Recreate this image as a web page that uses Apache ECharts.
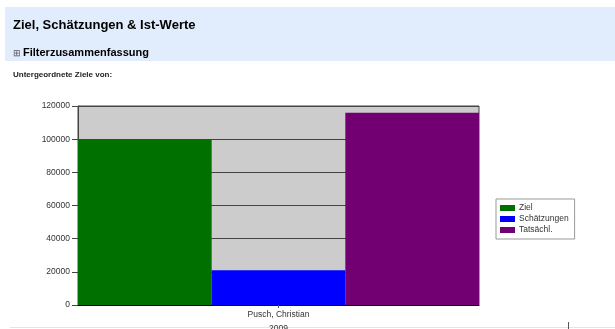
<!DOCTYPE html>
<html>
<head>
<meta charset="utf-8">
<script src="https://cdn.jsdelivr.net/npm/echarts@6/dist/echarts.min.js"></script>
<style>
  html, body { margin: 0; padding: 0; background: #fff; }
  #page { position: relative; width: 615px; height: 329px; overflow: hidden; font-family: "Liberation Sans", Arial, sans-serif; }
  #chart { position: absolute; left: 0; top: 0; width: 615px; height: 329px; }
  .band { position: absolute; left: 5px; top: 7px; width: 610px; height: 54px; background: #e1ecfc; }
  .title { position: absolute; left: 13px; top: 17px; font-size: 13px; font-weight: bold; color: #000; white-space: nowrap; }
  .filter { position: absolute; left: 13px; top: 46px; font-size: 11px; font-weight: bold; color: #000; white-space: nowrap; }
  .filter span { font-size: 9px; font-weight: normal; color: #555; margin-right: 2px; }
  .sub { position: absolute; left: 13px; top: 70px; font-size: 8px; font-weight: bold; color: #222; white-space: nowrap; }
</style>
</head>
<body>
<div id="page">
  <div id="chart"></div>
  <div class="band"></div>
  <div class="title">Ziel, Schätzungen &amp; Ist-Werte</div>
  <div class="filter"><span>⊞</span>Filterzusammenfassung</div>
  <div class="sub">Untergeordnete Ziele von:</div>
</div>
<script>
// Werte
const categories = ['Pusch, Christian'];
const zielWerte = [100000];
const schaetzWerte = [21000];
const istWerte = [116000];
const seriesNames = ['Ziel', 'Schätzungen', 'Tatsächl.'];
const yearLabel = '2009';

const chart = echarts.init(document.getElementById('chart'));

const labelFont = { fontFamily: 'Liberation Sans, Arial, sans-serif', fontSize: 8.5, color: '#333' };

chart.setOption({
  animation: false,
  grid: {
    left: 78, top: 106, width: 401, height: 199,
    show: true, backgroundColor: '#cccccc', borderColor: '#444', borderWidth: 1
  },
  legend: {
    orient: 'vertical',
    left: 496, top: 199,
    data: seriesNames,
    icon: 'rect',
    itemWidth: 15, itemHeight: 6, itemGap: 1,
    padding: [4, 6, 4, 4],
    backgroundColor: '#fff', borderColor: '#999', borderWidth: 1,
    textStyle: { ...labelFont, lineHeight: 10, padding: [0, 0, 0, -1] }
  },
  xAxis: {
    type: 'category',
    data: categories,
    axisLine: { lineStyle: { color: '#000', width: 1 } },
    axisTick: { show: true, alignWithLabel: true, length: 3, lineStyle: { color: '#555' } },
    axisLabel: { ...labelFont, margin: 5 }
  },
  yAxis: {
    type: 'value',
    min: 0, max: 120000, interval: 20000,
    axisLine: { show: true, lineStyle: { color: '#444' } },
    axisTick: { show: true, length: 6, lineStyle: { color: '#444' } },
    axisLabel: { ...labelFont, margin: 8, formatter: v => String(v) },
    splitLine: { show: true, lineStyle: { color: '#444', width: 1 } }
  },
  series: [
    { name: seriesNames[0], type: 'bar', data: zielWerte, barGap: '0%', barCategoryGap: '0%', itemStyle: { color: '#007000' } },
    { name: seriesNames[1], type: 'bar', data: schaetzWerte, barGap: '0%', barCategoryGap: '0%', itemStyle: { color: '#0000ff' } },
    { name: seriesNames[2], type: 'bar', data: istWerte, barGap: '0%', barCategoryGap: '0%', itemStyle: { color: '#730073' } }
  ],
  graphic: [
    { type: 'line', shape: { x1: 10, y1: 327.5, x2: 615, y2: 327.5 }, style: { stroke: '#e4e4e4', lineWidth: 1 } },
    { type: 'line', shape: { x1: 568.5, y1: 322, x2: 568.5, y2: 329 }, style: { stroke: '#555', lineWidth: 1 } },
    { type: 'text', left: 269, top: 324, style: { text: yearLabel, font: '8.5px "Liberation Sans", Arial, sans-serif', fill: '#333' } }
  ]
});
</script>
</body>
</html>
